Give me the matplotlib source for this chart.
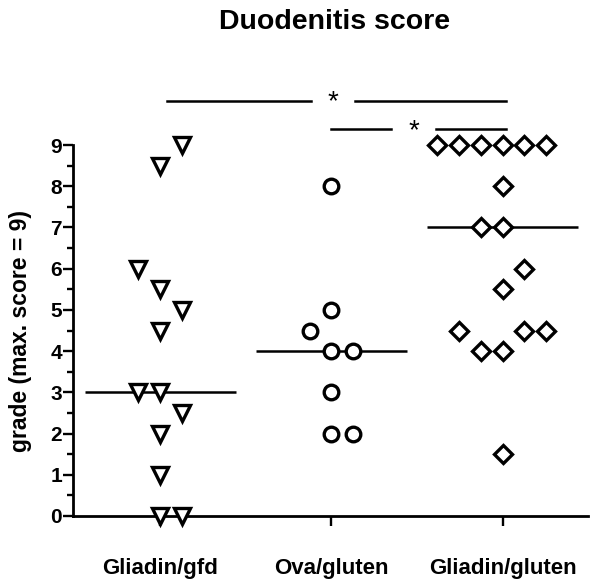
import matplotlib
matplotlib.use("Agg")
import matplotlib.pyplot as plt
from matplotlib.ticker import MultipleLocator

plt.rcParams['font.family'] = ['Liberation Sans', 'DejaVu Sans']

categories = ["Gliadin/gfd", "Ova/gluten", "Gliadin/gluten"]

gliadin_gfd = [9, 8.5, 6, 5.5, 5, 4.5, 3, 3, 2.5, 2, 1, 0, 0]
gliadin_gfd_slot = [1, 0, -1, 0, 1, 0, -1, 0, 1, 0, 0, 0, 1]

ova_gluten = [8, 5, 4.5, 4, 4, 3, 2, 2]
ova_gluten_slot = [0, 0, -1, 0, 1, 0, 0, 1]

gliadin_gluten = [9, 9, 9, 9, 9, 9, 8, 7, 7, 6, 5.5, 4.5, 4.5, 4.5, 4, 4, 1.5]
gliadin_gluten_slot = [-3, -2, -1, 0, 1, 2, 0, -1, 0, 1, 0, -2, 1, 2, -1, 0, 0]

medians = [3, 4, 7]

fig = plt.figure(figsize=(6.01, 5.86), dpi=100)
ax = fig.add_axes([0.1215, 0.1195, 0.857, 0.633])

step = 0.128
groups = [(gliadin_gfd, gliadin_gfd_slot, 'v', 11),
          (ova_gluten, ova_gluten_slot, 'o', 10.5),
          (gliadin_gluten, gliadin_gluten_slot, 'D', 9.5)]
for i, (vals, slots, mk, ms) in enumerate(groups):
    xs = [i + 1 + s * step for s in slots]
    ax.plot(xs, vals, linestyle='none', marker=mk, markersize=ms,
            markerfacecolor='white', markeredgecolor='black',
            markeredgewidth=2.4, clip_on=False, zorder=3)
    ax.plot([i + 1 - 0.44, i + 1 + 0.44], [medians[i], medians[i]],
            color='black', lw=1.8, zorder=2, solid_capstyle='butt')

ax.set_xlim(0.49, 3.5)
ax.set_ylim(0, 9)
ax.set_xticks([1, 2, 3])
ax.set_xticklabels(categories, fontsize=16, fontweight='bold')
ax.yaxis.set_major_locator(MultipleLocator(1))
ax.yaxis.set_minor_locator(MultipleLocator(0.5))
ax.tick_params(axis='y', which='major', length=7, width=1.7, labelsize=15, pad=1)
ax.tick_params(axis='y', which='minor', length=4, width=1.7)
ax.tick_params(axis='x', which='major', length=7, width=1.7, pad=23)
for lab in ax.get_yticklabels():
    lab.set_fontweight('bold')
for s in ['top', 'right']:
    ax.spines[s].set_visible(False)
for s in ['left', 'bottom']:
    ax.spines[s].set_linewidth(2.0)
ax.set_ylabel("grade (max. score = 9)", fontsize=16.5, fontweight='bold')
ax.yaxis.set_label_coords(-0.08, 0.5)

# significance bars
def sigbar(x1, x2, y, xstar):
    gap = 0.13
    ax.plot([x1, xstar - gap], [y, y], color='black', lw=1.8, clip_on=False)
    ax.plot([xstar + gap, x2], [y, y], color='black', lw=1.8, clip_on=False)
    ax.text(xstar, y - 0.05, "*", ha='center', va='center', fontsize=20, clip_on=False)

sigbar(1.04, 3.02, 10.08, 2.01)
sigbar(2.0, 3.02, 9.38, 2.48)

fig.text(0.556, 0.9505, "Duodenitis score", ha='center', va='baseline',
         fontsize=20.5, fontweight='bold')

fig.savefig("out.png", dpi=100)
